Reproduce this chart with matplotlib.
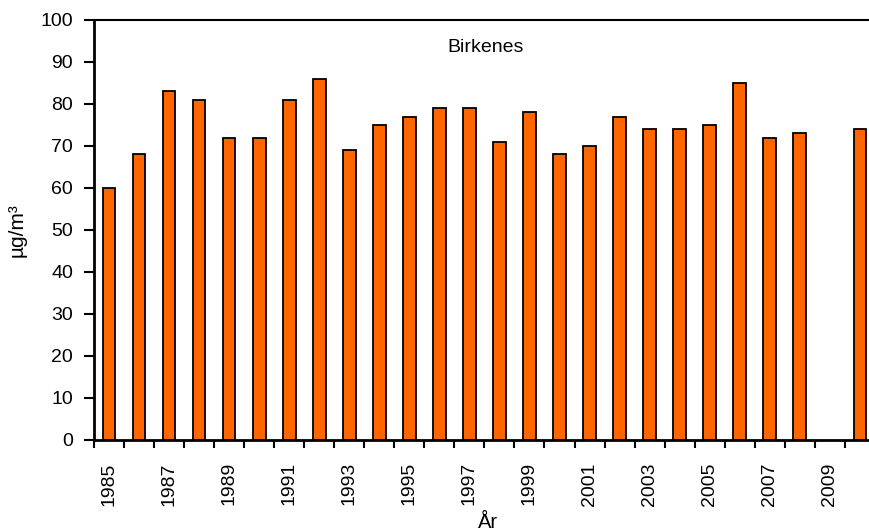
import numpy as np
import matplotlib
matplotlib.use("Agg")
from matplotlib import pyplot as plt

# Birkenes, yearly values (µg/m³); 2009 has no value
years = list(range(1985, 2011))
values = [60, 68, 83, 81, 72, 72, 81, 86, 69, 75, 77, 79, 79, 71, 78,
          68, 70, 77, 74, 74, 75, 85, 72, 73, np.nan, 74]
year_labels = [str(y) if y % 2 == 1 else "" for y in years]

plt.rcParams["font.family"] = ["Liberation Sans", "DejaVu Sans"]

fig = plt.figure(figsize=(8.69, 5.31), dpi=100)
# the plot area runs past the right edge of the figure, as in the original
ax = fig.add_axes([0.1082, 0.1714, 0.8985, 0.791])

x = np.arange(len(years))
ax.bar(x, values, width=0.42, color="#FF6600", edgecolor="black", linewidth=1.3)

ax.set_xlim(-0.5, len(years) - 0.5)
ax.set_ylim(0, 100)
ax.set_yticks(range(0, 101, 10))

# tick marks between the categories, labels under the bars
ax.set_xticks(np.arange(-0.5, len(years), 1))
ax.set_xticklabels([])
ax.set_xticks(x, minor=True)
ax.set_xticklabels(year_labels, minor=True, rotation=90, fontsize=14)
ax.tick_params(axis="x", which="major", direction="out", length=6, width=1.5)
ax.tick_params(axis="x", which="minor", length=0, pad=16)
ax.tick_params(axis="y", direction="out", length=7, width=1.5, labelsize=14, pad=8)

ax.spines["left"].set_linewidth(2)
ax.spines["bottom"].set_linewidth(2)
ax.spines["top"].set_linewidth(1.5)
ax.spines["right"].set_visible(False)

ax.set_ylabel("µg/m³", fontsize=15, labelpad=10)
fig.text(0.562, 0.034, "År", ha="center", va="top", fontsize=14.5)
fig.text(0.559, 0.91, "Birkenes", ha="center", va="center", fontsize=14)

fig.savefig("out.png", dpi=100)
